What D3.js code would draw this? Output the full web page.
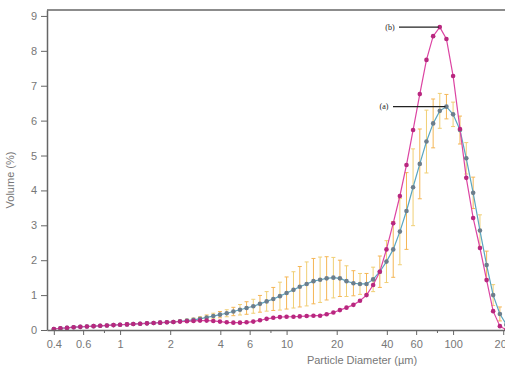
<!DOCTYPE html>
<html>

<head>
  <meta charset="utf-8">
  <title>particle-size</title>
  <style>
    * {
      padding: 0;
      margin: 0;
    }

    html,
    body {
      width: 505px;
      height: 369px;
      background: #fff;
      overflow: hidden;
    }

    .tick text {
      font-family: Arial, "Liberation Sans", sans-serif;
      font-size: 11px;
      fill: #777;
    }

    .tick line {
      stroke: #666;
    }

    .domain {
      stroke: #666;
      stroke-width: 1.5;
    }
  </style>
</head>

<body>
  <svg id="svg"></svg>
  <script src="https://cdnjs.cloudflare.com/ajax/libs/d3/7.8.5/d3.min.js"></script>
  <script>
    // particle diameters (um), one per measured channel
    const sizes = [0.400, 0.438, 0.480, 0.526, 0.577, 0.632, 0.693, 0.760, 0.833, 0.913,
      1.00, 1.10, 1.20, 1.32, 1.45, 1.59, 1.74, 1.91, 2.09, 2.29,
      2.52, 2.76, 3.02, 3.31, 3.63, 3.98, 4.37, 4.79, 5.25, 5.75,
      6.31, 6.92, 7.59, 8.32, 9.12, 10.0, 11.0, 12.0, 13.2, 14.5,
      15.9, 17.4, 19.1, 20.9, 22.9, 25.2, 27.6, 30.2, 33.1, 36.3,
      39.8, 43.7, 47.9, 52.5, 57.5, 63.1, 69.2, 75.9, 83.2, 91.2,
      100, 110, 120, 132, 145, 159, 174, 191, 209];

    // curve (b), volume %
    const volB = [0.03, 0.05, 0.06, 0.08, 0.09, 0.10, 0.11, 0.12, 0.13, 0.14,
      0.15, 0.16, 0.17, 0.18, 0.19, 0.20, 0.21, 0.22, 0.23, 0.24,
      0.25, 0.26, 0.27, 0.27, 0.26, 0.24, 0.22, 0.21, 0.21, 0.22,
      0.24, 0.28, 0.32, 0.35, 0.37, 0.38, 0.38, 0.39, 0.40, 0.41,
      0.41, 0.45, 0.50, 0.57, 0.64, 0.72, 0.84, 1.00, 1.29, 1.67,
      2.31, 3.06, 3.84, 4.73, 5.73, 6.76, 7.74, 8.42, 8.68, 8.34,
      7.28, 5.76, 4.36, 3.21, 2.35, 1.43, 0.54, 0.11, 0.00];

    // curve (a), volume % and its error
    const volA = [0.03, 0.05, 0.06, 0.08, 0.09, 0.10, 0.11, 0.12, 0.13, 0.14,
      0.15, 0.16, 0.17, 0.18, 0.19, 0.20, 0.21, 0.22, 0.23, 0.25,
      0.27, 0.29, 0.32, 0.36, 0.40, 0.44, 0.48, 0.53, 0.58, 0.63,
      0.68, 0.75, 0.82, 0.89, 0.97, 1.06, 1.15, 1.24, 1.32, 1.40,
      1.44, 1.48, 1.50, 1.48, 1.40, 1.34, 1.32, 1.32, 1.45, 1.67,
      1.96, 2.31, 2.82, 3.41, 4.09, 4.76, 5.40, 5.92, 6.28, 6.40,
      6.18, 5.73, 4.92, 3.93, 2.85, 1.86, 1.00, 0.46, 0.15];

    const errA = [0, 0, 0, 0, 0, 0, 0, 0, 0, 0,
      0, 0, 0, 0, 0, 0, 0, 0, 0.02, 0.03,
      0.04, 0.05, 0.06, 0.07, 0.08, 0.09, 0.10, 0.12, 0.15, 0.18,
      0.20, 0.24, 0.28, 0.33, 0.40, 0.46, 0.52, 0.58, 0.63, 0.65,
      0.65, 0.62, 0.58, 0.52, 0.44, 0.36, 0.30, 0.30, 0.35, 0.45,
      0.60, 0.80, 0.95, 1.10, 1.10, 1.00, 0.90, 0.70, 0.50, 0.35,
      0.35, 0.40, 0.45, 0.45, 0.45, 0.40, 0.30, 0.20, 0.10];

    const xTicks = [0.4, 0.6, 1, 2, 4, 6, 10, 20, 40, 60, 100, 200];
    const xMinor = [0.8, 8, 80];
    const yTicks = [0, 1, 2, 3, 4, 5, 6, 7, 8, 9];

    const dimension = {
      width: 505,
      height: 369,
      left: 47,
      right: 505,
      top: 10,
      bottom: 330
    };

    const svg = d3.select('#svg').attr('width', dimension.width).attr('height', dimension.height);

    const xScale = d3.scaleLog().domain([0.364, 205]).range([dimension.left, dimension.right]);
    const yScale = d3.scaleLinear().domain([0, 9.17]).range([dimension.bottom, dimension.top]);

    svg.append('defs').append('clipPath').attr('id', 'clip')
      .append('rect')
      .attr('x', dimension.left)
      .attr('y', dimension.top - 5)
      .attr('width', dimension.right - dimension.left)
      .attr('height', dimension.bottom - dimension.top + 5);

    // frame top
    svg.append('line')
      .attr('x1', dimension.left).attr('x2', dimension.right)
      .attr('y1', dimension.top).attr('y2', dimension.top)
      .attr('stroke', '#666').attr('stroke-width', 1.5);

    const plot = svg.append('g').attr('clip-path', 'url(#clip)');

    const rowsA = sizes.map((s, i) => ({ s: s, v: volA[i], e: errA[i] }));
    const rowsB = sizes.map((s, i) => ({ s: s, v: volB[i] }));

    // error bars of (a)
    const eb = plot.append('g')
      .selectAll('g')
      .data(rowsA.filter(d => d.e > 0))
      .enter()
      .append('g')
      .attr('stroke', (d, i) => i % 2 ? '#f3a52c' : '#eec453')
      .attr('stroke-width', 1)
      .attr('opacity', 0.8);
    eb.append('line')
      .attr('x1', d => xScale(d.s)).attr('x2', d => xScale(d.s))
      .attr('y1', d => yScale(d.v + d.e)).attr('y2', d => yScale(Math.max(0, d.v - d.e)));
    eb.append('line')
      .attr('x1', d => xScale(d.s) - 2).attr('x2', d => xScale(d.s) + 2)
      .attr('y1', d => yScale(d.v + d.e)).attr('y2', d => yScale(d.v + d.e));
    eb.append('line')
      .attr('x1', d => xScale(d.s) - 2).attr('x2', d => xScale(d.s) + 2)
      .attr('y1', d => yScale(Math.max(0, d.v - d.e))).attr('y2', d => yScale(Math.max(0, d.v - d.e)));

    const line = d3.line().x(d => xScale(d.s)).y(d => yScale(d.v));

    plot.append('path')
      .datum(rowsA)
      .attr('d', line)
      .attr('fill', 'none')
      .attr('stroke', '#5aa6c0')
      .attr('stroke-width', 1.2);

    plot.append('path')
      .datum(rowsB)
      .attr('d', line)
      .attr('fill', 'none')
      .attr('stroke', '#dc44a2')
      .attr('stroke-width', 1.2);

    plot.append('g')
      .selectAll('circle')
      .data(rowsA)
      .enter()
      .append('circle')
      .attr('cx', d => xScale(d.s))
      .attr('cy', d => yScale(d.v))
      .attr('r', 2.3)
      .attr('fill', '#6c7e8c');

    plot.append('g')
      .selectAll('circle')
      .data(rowsB)
      .enter()
      .append('circle')
      .attr('cx', d => xScale(d.s))
      .attr('cy', d => yScale(d.v))
      .attr('r', 2.3)
      .attr('fill', '#b8277f');

    // axes
    svg.append('g')
      .attr('transform', `translate(0, ${dimension.bottom})`)
      .call(d3.axisBottom(xScale).tickValues(xTicks).tickFormat(d3.format('')).tickSize(5).tickSizeOuter(0).tickPadding(5));

    svg.append('g')
      .attr('transform', `translate(0, ${dimension.bottom})`)
      .call(d3.axisBottom(xScale).tickValues(xMinor).tickFormat('').tickSize(3).tickSizeOuter(0))
      .select('.domain').remove();

    svg.append('g')
      .attr('transform', `translate(${dimension.left}, 0)`)
      .call(d3.axisLeft(yScale).tickValues(yTicks).tickSize(6).tickSizeOuter(0).tickPadding(4));

    svg.append('text')
      .text('Volume (%)')
      .attr('transform', `translate(14, ${(dimension.top + dimension.bottom) / 2 + 10}) rotate(-90)`)
      .attr('text-anchor', 'middle')
      .style('font-family', 'Arial, "Liberation Sans", sans-serif')
      .style('font-size', '11px')
      .attr('fill', '#777');

    svg.append('text')
      .text('Particle Diameter (\u00b5m)')
      .attr('x', 362)
      .attr('y', 364)
      .attr('text-anchor', 'middle')
      .style('font-family', 'Arial, "Liberation Sans", sans-serif')
      .style('font-size', '11px')
      .attr('fill', '#777');

    // labels for the two curves
    const peakA = rowsA[d3.maxIndex(rowsA, d => d.v)];
    const peakB = rowsB[d3.maxIndex(rowsB, d => d.v)];
    const notes = [
      { label: '(b)', p: peakB, x0: 399, tx: 390 },
      { label: '(a)', p: peakA, x0: 393, tx: 384 }
    ];
    notes.forEach(n => {
      svg.append('line')
        .attr('x1', n.x0).attr('x2', xScale(n.p.s) - 1)
        .attr('y1', yScale(n.p.v)).attr('y2', yScale(n.p.v))
        .attr('stroke', '#222').attr('stroke-width', 1.1);
      svg.append('text')
        .text(n.label)
        .attr('x', n.tx)
        .attr('y', yScale(n.p.v) + 2.5)
        .attr('text-anchor', 'middle')
        .style('font-family', '"Liberation Serif", "DejaVu Serif", serif')
        .style('font-size', '8px')
        .attr('fill', '#222');
    });
  </script>
</body>

</html>
